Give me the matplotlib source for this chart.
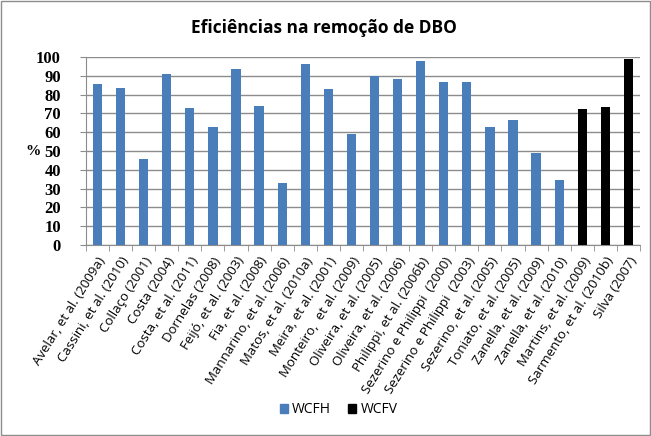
import numpy as np
import matplotlib.pyplot as plt
from matplotlib.patches import Rectangle

# --- data ---
studies = ["Avelar, et al. (2009a)", "Cassini, et al. (2010)", "Collaço (2001)",
           "Costa (2004)", "Costa, et al. (2011)", "Dornelas (2008)",
           "Feijó, et al. (2003)", "Fia, et al. (2008)", "Mannarino, et al. (2006)",
           "Matos, et al. (2010a)", "Meira, et al. (2001)", "Monteiro,  et al. (2009)",
           "Oliveira, et al. (2005)", "Oliveira, et al. (2006)", "Philippi, et al. (2006b)",
           "Sezerino e Philippi  (2000)", "Sezerino e Philippi  (2003)",
           "Sezerino, et al. (2005)", "Toniato, et al. (2005)", "Zanella, et al. (2009)",
           "Zanella, et al. (2010)", "Martins, et al. (2009)", "Sarmento, et al. (2010b)",
           "Silva (2007)"]
efficiency = [85.8, 83.6, 45.8, 91.1, 73.0, 62.8, 93.8, 74.0, 33.0, 96.4, 83.1, 59.1,
              90.0, 88.4, 98.0, 86.8, 86.8, 62.9, 66.6, 48.9, 34.6, 72.5, 73.5, 99.1]
system = ["WCFH"] * 21 + ["WCFV"] * 3

colors = {"WCFH": "#4a7ebb", "WCFV": "#000000"}

fig = plt.figure(figsize=(6.51, 4.36), dpi=100)
ax = fig.add_axes([0.132, 0.438, 0.851, 0.431])

x = np.arange(len(studies))
ax.bar(x, efficiency, width=0.4, color=[colors[s] for s in system], zorder=3)

ax.set_xlim(-0.5, len(studies) - 0.5)
ax.set_ylim(0, 100)
ax.set_yticks(np.arange(0, 101, 10))
ax.yaxis.grid(True, color="#8c8c8c", linewidth=1, zorder=0)
for s in ["top", "right"]:
    ax.spines[s].set_visible(False)
for s in ["left", "bottom"]:
    ax.spines[s].set_color("#8c8c8c")

ax.set_xticks(x)
ax.set_xticklabels(studies, rotation=58, ha="right", rotation_mode="anchor",
                   fontsize=9.5, family="Open Sans")
ax.set_xticks(np.arange(-0.5, len(studies)), minor=True)
ax.tick_params(axis="x", which="major", length=0, pad=7)
ax.tick_params(axis="x", which="minor", length=4, color="#8c8c8c")
ax.tick_params(axis="y", length=4, color="#8c8c8c", labelsize=12, pad=14)
for lab in ax.get_yticklabels():
    lab.set_family("Liberation Serif")
    lab.set_fontweight("bold")

ax.set_ylabel("%", rotation=0, fontsize=11, fontweight="bold",
              family="Liberation Serif", labelpad=2, va="center")

fig.text(0.498, 0.935, "Eficiências na remoção de DBO", ha="center", va="center",
         fontsize=12.5, fontweight="bold", family="Open Sans")

handles = [Rectangle((0, 0), 1, 1, color=colors[k]) for k in ["WCFH", "WCFV"]]
fig.legend(handles, ["WCFH", "WCFV"], loc="center", bbox_to_anchor=(0.52, 0.06),
           ncol=2, frameon=False, handlelength=0.6, handleheight=0.6,
           handletextpad=0.3, columnspacing=1.2, prop={"family": "Open Sans", "size": 10})

fig.patches.append(Rectangle((0.002, 0.003), 0.996, 0.994, transform=fig.transFigure,
                             fill=False, edgecolor="#8c8c8c", linewidth=1))

fig.savefig("out.png", dpi=100)
